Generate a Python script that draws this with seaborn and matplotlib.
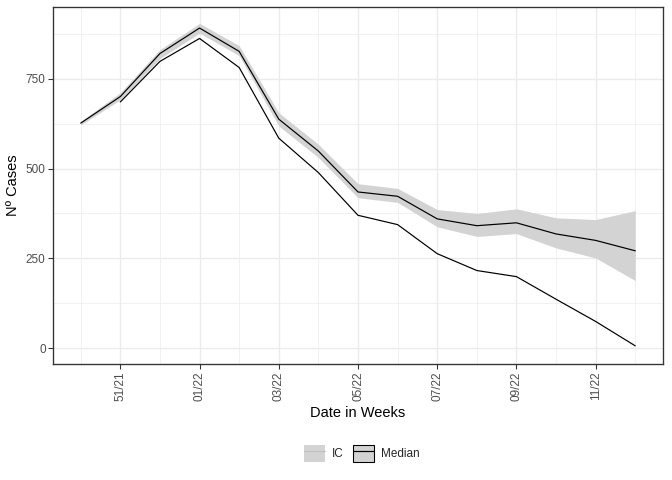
import matplotlib
matplotlib.use("Agg")
import matplotlib.pyplot as plt
import seaborn as sns
import pandas as pd
import numpy as np
from matplotlib.patches import Patch
from matplotlib.lines import Line2D
from matplotlib.ticker import FixedLocator

weeks = ["50/21", "51/21", "52/21", "01/22", "02/22", "03/22", "04/22", "05/22",
         "06/22", "07/22", "08/22", "09/22", "10/22", "11/22", "12/22"]
median = [627, 701, 821, 892, 827, 638, 549, 435, 423, 360, 341, 349, 318, 300, 271]
ic_low = [622, 692, 807, 878, 815, 619, 531, 419, 406, 338, 311, 319, 279, 251, 188]
ic_high = [632, 712, 832, 905, 843, 656, 568, 458, 445, 386, 375, 388, 363, 358, 383]
observed = [None, 686, 799, 863, 782, 585, 489, 370, 344, 263, 216, 199, 136, 74, 6]
tick_labels = ["51/21", "01/22", "03/22", "05/22", "07/22", "09/22", "11/22"]

idx = np.arange(len(weeks))
df = pd.DataFrame({"week": idx, "median": median, "low": ic_low, "high": ic_high,
                   "observed": observed})

sns.set_theme(style="white")
plt.rcParams['font.family'] = ['Liberation Sans', 'DejaVu Sans']

fig = plt.figure(figsize=(7, 5), dpi=96)
ax = fig.add_axes([53/672, 1-364/480, (663-53)/672, 357/480])

ribbon_col = "#d3d3d3"
ax.fill_between(df["week"], df["low"], df["high"], color=ribbon_col, lw=0, zorder=2)
sns.lineplot(data=df, x="week", y="median", color="black", lw=0.9, ax=ax, zorder=3)
obs = df.dropna(subset=["observed"])
sns.lineplot(data=obs, x="week", y="observed", color="black", lw=0.9, ax=ax, zorder=3)

ax.set_xlim(-0.7, len(weeks) - 1 + 0.7)
ax.set_ylim(-44.6, 950.7)
tick_pos = [weeks.index(t) for t in tick_labels]
ax.xaxis.set_major_locator(FixedLocator(tick_pos))
ax.set_xticklabels(tick_labels, rotation=90)
ax.xaxis.set_minor_locator(FixedLocator([p - 1 for p in tick_pos] + [tick_pos[-1] + 1]))
ax.yaxis.set_major_locator(FixedLocator([0, 250, 500, 750]))
ax.yaxis.set_minor_locator(FixedLocator([125, 375, 625, 875]))
ax.set_yticklabels(["0", "250", "500", "750"])

ax.grid(which="major", color="#ebebeb", lw=1.0, zorder=0)
ax.grid(which="minor", color="#ebebeb", lw=0.5, zorder=0)
ax.set_axisbelow(True)
for s in ax.spines.values():
    s.set_color("#333333")
    s.set_linewidth(1.0)
ax.tick_params(which="major", length=3.5, width=0.8, color="#333333",
               labelcolor="#4d4d4d", labelsize=8.8, pad=2, bottom=True, left=True)
ax.tick_params(which="minor", length=0, bottom=False, left=False)

ax.set_xlabel("Date in Weeks", fontsize=11, color="black", labelpad=4)
ax.set_ylabel("Nº Cases", fontsize=11, color="black", labelpad=4)

h_ic = (Patch(facecolor=ribbon_col, edgecolor="none"), Line2D([], [], color="#c0c0c0", lw=0.8))
h_med = (Patch(facecolor=ribbon_col, edgecolor="black", lw=0.8), Line2D([], [], color="black", lw=0.9))
fig.legend([h_ic, h_med], ["IC", "Median"], loc="center",
           bbox_to_anchor=(362/672, 1-453.5/480), ncol=2, frameon=False,
           fontsize=8.8, handlelength=1.8, handleheight=1.8, handletextpad=0.6,
           columnspacing=0.8)

fig.savefig("out.png", dpi=96)
